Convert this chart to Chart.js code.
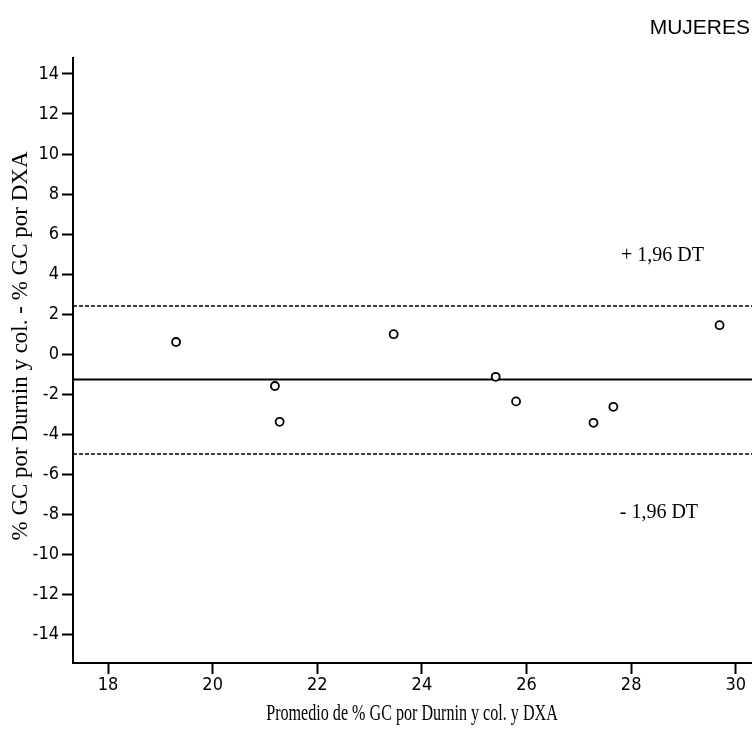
<!DOCTYPE html>
<html lang="es">
<head>
<meta charset="UTF-8">
<title>Bland-Altman - Mujeres</title>
<script src="https://cdn.jsdelivr.net/npm/chart.js@4"></script>
<style>
    * { margin: 0; padding: 0; box-sizing: border-box; }
    body { background: #fff; width: 752px; height: 735px; overflow: hidden; }
    #wrap { position: relative; width: 752px; height: 735px; }
</style>
</head>
<body>
<div id="wrap"><canvas id="baChart" width="752" height="735"></canvas></div>
<script>
    // Promedio de %GC (Durnin y col. y DXA)
    const promedio = [19.3, 21.19, 21.28, 23.46, 25.41, 25.80, 27.28, 27.66, 29.69];
    // Diferencia %GC Durnin y col. - %GC DXA
    const diferencia = [0.6, -1.6, -3.39, 0.99, -1.14, -2.37, -3.44, -2.64, 1.44];

    // media de las diferencias y limites de acuerdo (+/- 1,96 DT)
    const mediaDif = -1.27;
    const limiteSup = 2.4;
    const limiteInf = -5.0;

    const xTicks = [18, 20, 22, 24, 26, 28, 30];
    const yTicks = [14, 12, 10, 8, 6, 4, 2, 0, -2, -4, -6, -8, -10, -12, -14];
    const xRange = [17.33, 30.31];
    const yRange = [-15.45, 14.8];

    const panelTitle = 'MUJERES';
    const xTitle = 'Promedio de % GC por Durnin y col. y DXA';
    const yTitle = '% GC por Durnin y col. - % GC por DXA';
    const bandLabels = ['+ 1,96 DT', '- 1,96 DT'];

    const tickFont = { family: "'Liberation Sans Narrow', 'DejaVu Sans Condensed', sans-serif", size: 18 };

    // textos que Chart.js no dibuja por si solo
    const textos = {
        id: 'textos',
        afterDraw(chart) {
            const ctx = chart.ctx;
            const sx = chart.scales.x, sy = chart.scales.y;
            ctx.save();
            ctx.fillStyle = '#000';
            ctx.textBaseline = 'middle';

            ctx.font = '21px "Liberation Sans", Arial, sans-serif';
            ctx.textAlign = 'right';
            ctx.fillText(panelTitle, 750, 28);

            ctx.font = '20px "Liberation Serif", "Times New Roman", serif';
            ctx.textAlign = 'center';
            ctx.fillText(bandLabels[0], sx.getPixelForValue(28.6), sy.getPixelForValue(4.9));
            ctx.fillText(bandLabels[1], sx.getPixelForValue(28.53), sy.getPixelForValue(-7.95));

            // titulo del eje x, comprimido como en el original
            ctx.save();
            ctx.font = '23px "Liberation Serif", "Times New Roman", serif';
            ctx.translate(412, 714);
            ctx.scale(0.7, 1);
            ctx.fillText(xTitle, 0, 0);
            ctx.restore();

            ctx.font = '23px "Liberation Serif", "Times New Roman", serif';
            ctx.translate(21, 346);
            ctx.rotate(-Math.PI / 2);
            ctx.fillText(yTitle, 0, 0);
            ctx.restore();
        }
    };

    function lineaH(valor, dash, width) {
        return {
            type: 'line',
            data: [{ x: xRange[0], y: valor }, { x: xRange[1], y: valor }],
            borderColor: '#000',
            borderWidth: width,
            borderDash: dash,
            pointRadius: 0,
            fill: false
        };
    }

    const ctx = document.getElementById('baChart').getContext('2d');
    new Chart(ctx, {
        type: 'scatter',
        data: {
            datasets: [{
                label: 'Diferencias',
                data: promedio.map((x, i) => ({ x: x, y: diferencia[i] })),
                pointStyle: 'circle',
                pointRadius: 4,
                borderWidth: 1.8,
                borderColor: '#000',
                backgroundColor: '#fff'
            },
            lineaH(limiteSup, [4, 2], 1.5),
            lineaH(mediaDif, [], 2),
            lineaH(limiteInf, [4, 2], 1.5)]
        },
        options: {
            responsive: false,
            animation: false,
            devicePixelRatio: 1,
            layout: { autoPadding: false, padding: { top: 58, right: 0, left: 0, bottom: 0 } },
            plugins: { legend: { display: false }, tooltip: { enabled: false } },
            scales: {
                x: {
                    type: 'linear',
                    min: xRange[0],
                    max: xRange[1],
                    afterBuildTicks: s => { s.ticks = xTicks.map(v => ({ value: v })); },
                    afterFit: s => { s.height = 72; s.paddingLeft = 0; s.paddingRight = 0; },
                    border: { display: true, color: '#000', width: 2 },
                    grid: { drawOnChartArea: false, tickLength: 11, tickWidth: 2, tickColor: '#000' },
                    ticks: { color: '#000', font: tickFont, padding: 1, maxRotation: 0 }
                },
                y: {
                    type: 'linear',
                    min: yRange[0],
                    max: yRange[1],
                    afterBuildTicks: s => { s.ticks = yTicks.map(v => ({ value: v })); },
                    afterFit: s => { s.width = 73; s.paddingTop = 0; s.paddingBottom = 0; },
                    border: { display: true, color: '#000', width: 2 },
                    grid: { drawOnChartArea: false, tickLength: 11, tickWidth: 2, tickColor: '#000' },
                    ticks: { color: '#000', font: tickFont, padding: 3 }
                }
            }
        },
        plugins: [textos]
    });
</script>
</body>
</html>
